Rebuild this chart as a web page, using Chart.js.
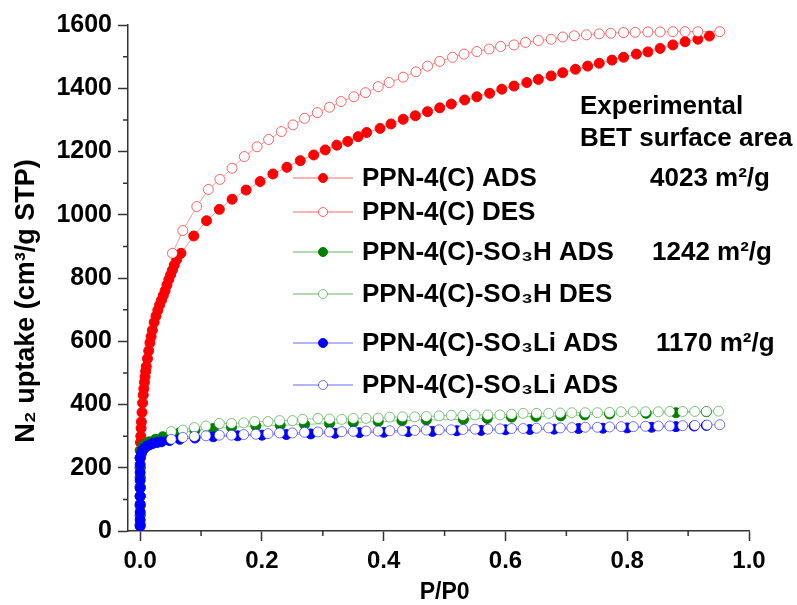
<!DOCTYPE html>
<html>
<head>
<meta charset="utf-8">
<script src="https://cdn.jsdelivr.net/npm/chart.js@4.4.0/dist/chart.umd.min.js"></script>
<style>
  body { margin: 0; background: #fff; }
  canvas { display: block; }
</style>
</head>
<body>
<canvas id="isotherm" width="797" height="605"></canvas>
<script>
// [P/P0, N2 uptake]
const redAds = [
  [0,20],[0,50],[0,80],[0,110],[0,140],[0,170],[0,200],[0,230],[0,255],
  [0.0005,280],[0.001,300],[0.0015,325],[0.002,345],[0.003,375],[0.004,405],[0.005,430],
  [0.006,450],[0.007,470],[0.008,488],[0.009,505],[0.010,520],[0.012,545],[0.014,570],
  [0.016,595],[0.018,615],[0.020,635],[0.023,660],[0.026,680],[0.029,698],[0.032,715],
  [0.035,730],[0.038,745],[0.041,760],[0.044,778],[0.047,795],[0.050,810],[0.053,825],
  [0.056,841],[0.060,858],[0.067,878],[0.088,933],[0.109,981],[0.130,1017],[0.151,1049],
  [0.174,1078],[0.197,1105],[0.218,1129],[0.241,1150],[0.263,1171],[0.285,1189],[0.304,1205],
  [0.323,1220],[0.341,1232],[0.358,1247],[0.372,1260],[0.394,1273],[0.412,1287],[0.432,1302],
  [0.452,1313],[0.472,1326],[0.492,1338],[0.511,1350],[0.533,1363],[0.553,1373],[0.574,1384],
  [0.594,1397],[0.614,1407],[0.635,1418],[0.654,1428],[0.675,1439],[0.694,1449],[0.715,1460],
  [0.735,1470],[0.754,1479],[0.775,1489],[0.794,1498],[0.815,1508],[0.834,1515],[0.854,1526],
  [0.875,1537],[0.895,1547],[0.916,1555],[0.935,1565]
];
const redDes = [
  [0.952,1579],[0.916,1579],[0.895,1579],[0.875,1579],[0.854,1578],[0.834,1578],[0.813,1577],
  [0.794,1576],[0.773,1574],[0.754,1572],[0.733,1569],[0.713,1566],[0.694,1562],[0.675,1555],
  [0.654,1551],[0.633,1545],[0.614,1537],[0.592,1532],[0.573,1524],[0.553,1516],[0.532,1508],
  [0.513,1498],[0.492,1485],[0.472,1470],[0.453,1452],[0.432,1435],[0.409,1418],[0.391,1405],
  [0.370,1386],[0.351,1373],[0.330,1358],[0.311,1340],[0.291,1323],[0.270,1305],[0.251,1284],
  [0.232,1263],[0.211,1238],[0.192,1215],[0.171,1184],[0.151,1147],[0.131,1112],[0.112,1080],
  [0.093,1026],[0.070,950],[0.053,878]
];
const greenAds = [
  [0,20],[0,50],[0,80],[0,110],[0,140],[0,170],[0,200],[0,230],[0.001,255],[0.004,268],
  [0.009,276],[0.015,282],[0.025,290],[0.037,298],[0.050,304],[0.065,311],[0.090,318],
  [0.120,324],[0.150,328],[0.190,332],[0.230,334],[0.270,337],[0.311,340],[0.350,343],
  [0.391,346],[0.430,349],[0.470,351],[0.531,353],[0.570,356],[0.610,360],[0.650,362],
  [0.691,364],[0.730,367],[0.771,370],[0.831,372],[0.880,374],[0.930,377]
];
const greenDes = [
  [0.950,379],[0.930,378],[0.911,378],[0.891,378],[0.870,378],[0.851,377],[0.830,377],
  [0.810,377],[0.790,377],[0.771,375],[0.751,374],[0.731,374],[0.709,374],[0.690,373],
  [0.671,372],[0.651,372],[0.629,372],[0.610,369],[0.591,367],[0.571,367],[0.550,367],
  [0.530,365],[0.511,366],[0.491,364],[0.470,362],[0.451,361],[0.431,361],[0.410,360],
  [0.391,357],[0.371,356],[0.350,356],[0.331,353],[0.311,354],[0.292,356],[0.267,353],
  [0.250,349],[0.229,349],[0.210,346],[0.188,346],[0.170,342],[0.150,340],[0.130,340],
  [0.108,332],[0.089,327],[0.070,319],[0.051,314]
];
const blueAds = [
  [0,15],[0,35],[0,60],[0,85],[0,110],[0,135],[0,160],[0,185],[0,210],[0,232],
  [0.002,245],[0.004,255],[0.007,262],[0.010,267],[0.015,272],[0.021,277],[0.028,280],
  [0.035,282],[0.048,286],[0.065,290],[0.090,294],[0.120,298],[0.160,301],[0.200,303],
  [0.240,305],[0.280,307],[0.320,309],[0.360,311],[0.400,312],[0.440,314],[0.480,315],
  [0.520,317],[0.560,318],[0.600,320],[0.640,321],[0.680,322],[0.720,324],[0.760,325],
  [0.800,326],[0.840,328],[0.880,330],[0.910,332],[0.930,334]
];
const blueDes = [
  [0.952,336],[0.931,335],[0.911,334],[0.891,333],[0.870,332],[0.851,332],[0.830,331],
  [0.810,330],[0.790,330],[0.771,329],[0.751,328],[0.731,328],[0.709,327],[0.690,326],
  [0.671,326],[0.651,325],[0.629,324],[0.610,324],[0.591,323],[0.571,322],[0.550,322],
  [0.530,321],[0.511,320],[0.491,320],[0.470,319],[0.451,318],[0.431,318],[0.410,317],
  [0.391,316],[0.371,316],[0.350,315],[0.331,314],[0.311,313],[0.292,313],[0.270,312],
  [0.250,310],[0.229,310],[0.210,308],[0.190,306],[0.170,305],[0.150,303],[0.130,303],
  [0.108,301],[0.089,299],[0.070,296],[0.051,290]
];

const seriesLabels = [
  'PPN-4(C) ADS', 'PPN-4(C) DES',
  'PPN-4(C)-SO₃H ADS', 'PPN-4(C)-SO₃H DES',
  'PPN-4(C)-SO₃Li ADS', 'PPN-4(C)-SO₃Li ADS'
];
const betAreas = ['4023 m²/g', '', '1242 m²/g', '', '1170 m²/g', ''];
const xMinorTicks = [0.1, 0.3, 0.5, 0.7, 0.9];
const yMinorTicks = [100, 300, 500, 700, 900, 1100, 1300, 1500];

const FONT = "'Liberation Sans', Arial, sans-serif";
const AXIS = '#333';

const styles = [
  { color: '#ff0000', edge: '#ff0000', line: 'rgba(255,0,0,0.4)', open: false },
  { color: '#ffffff', edge: 'rgba(255,0,0,0.6)', line: 'rgba(255,0,0,0.4)', open: true },
  { color: '#008000', edge: '#008000', line: 'rgba(0,128,0,0.4)', open: false },
  { color: '#ffffff', edge: 'rgba(0,140,0,0.5)', line: 'rgba(0,128,0,0.4)', open: true },
  { color: '#0000ff', edge: '#0000ff', line: 'rgba(0,0,255,0.4)', open: false },
  { color: '#ffffff', edge: 'rgba(0,0,255,0.55)', line: 'rgba(0,0,255,0.4)', open: true }
];
const allSeries = [redAds, redDes, greenAds, greenDes, blueAds, blueDes];

const datasets = allSeries.map((pts, i) => ({
  label: seriesLabels[i],
  data: pts.map(p => ({ x: p[0], y: p[1] })),
  showLine: true,
  borderColor: styles[i].line,
  borderWidth: 1,
  pointRadius: 5,
  pointBorderWidth: 1,
  pointBackgroundColor: styles[i].color,
  pointBorderColor: styles[i].edge,
  order: 6 - i   // later series on top, like the original plot
}));

// minor ticks, axis titles and the in-plot legend
const decorations = {
  id: 'decorations',
  afterDraw(chart) {
    const ctx = chart.ctx;
    const xs = chart.scales.x, ys = chart.scales.y;
    ctx.save();
    ctx.strokeStyle = AXIS;
    ctx.lineWidth = 1.5;
    ctx.beginPath();
    xMinorTicks.forEach(v => {
      const px = xs.getPixelForValue(v);
      ctx.moveTo(px, xs.top); ctx.lineTo(px, xs.top + 5);
    });
    yMinorTicks.forEach(v => {
      const py = ys.getPixelForValue(v);
      ctx.moveTo(ys.right, py); ctx.lineTo(ys.right - 5, py);
    });
    ctx.stroke();

    ctx.fillStyle = '#000';
    ctx.textAlign = 'center';
    ctx.textBaseline = 'middle';
    ctx.font = 'bold 23px ' + FONT;
    ctx.fillText('P/P0', xs.getPixelForValue(0.5), 593);
    ctx.font = 'bold 27px ' + FONT;
    ctx.save();
    ctx.translate(27, 301);
    ctx.rotate(-Math.PI / 2);
    ctx.fillText('N₂ uptake (cm³/g STP)', 0, 0);
    ctx.restore();

    // legend
    ctx.font = 'bold 26px ' + FONT;
    ctx.textAlign = 'left';
    ctx.fillText('Experimental', 580, 107);
    ctx.fillText('BET surface area', 580, 139);
    const rowY = [178, 212, 252, 294, 343, 385];
    const areaX = [650, 0, 652, 0, 656, 0];
    rowY.forEach((yy, i) => {
      const st = styles[i];
      ctx.strokeStyle = st.line;
      ctx.lineWidth = 1.5;
      ctx.beginPath();
      ctx.moveTo(293, yy); ctx.lineTo(353, yy);
      ctx.stroke();
      ctx.beginPath();
      ctx.arc(323, yy, 4.5, 0, Math.PI * 2);
      ctx.fillStyle = st.color;
      ctx.fill();
      ctx.strokeStyle = st.edge;
      ctx.lineWidth = 1;
      ctx.stroke();
      ctx.fillStyle = '#000';
      ctx.fillText(seriesLabels[i], 362, yy + 1);
      if (betAreas[i]) ctx.fillText(betAreas[i], areaX[i], yy + 1);
    });
    ctx.restore();
  }
};

new Chart(document.getElementById('isotherm'), {
  type: 'scatter',
  data: { datasets: datasets },
  options: {
    responsive: false,
    animation: false,
    devicePixelRatio: 1,
    layout: { padding: { left: 0, right: 48, top: 25, bottom: 0 } },
    plugins: { legend: { display: false }, tooltip: { enabled: false } },
    scales: {
      x: {
        type: 'linear',
        min: -0.02,
        max: 1.0,
        afterFit: s => { s.height = 74; },
        border: { display: true, color: AXIS, width: 1.5 },
        grid: { drawOnChartArea: false, drawTicks: true, tickLength: 10, tickColor: AXIS, tickWidth: 1.5 },
        ticks: {
          stepSize: 0.2,
          includeBounds: false,
          padding: 6,
          color: '#000',
          font: { family: FONT, size: 24, weight: 'bold' },
          maxRotation: 0,
          callback: v => v.toFixed(1)
        }
      },
      y: {
        type: 'linear',
        min: 0,
        max: 1600,
        afterFit: s => { s.width = 128; },
        border: { display: true, color: AXIS, width: 1.5 },
        grid: { drawOnChartArea: false, drawTicks: true, tickLength: 10, tickColor: AXIS, tickWidth: 1.5 },
        ticks: {
          stepSize: 200,
          padding: 6,
          color: '#000',
          font: { family: FONT, size: 25, weight: 'bold' },
          callback: v => String(v)
        }
      }
    }
  },
  plugins: [decorations]
});
</script>
</body>
</html>
